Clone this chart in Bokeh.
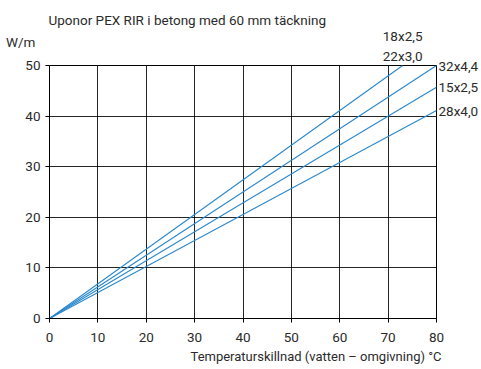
from bokeh.plotting import figure
from bokeh.models import Range1d, FixedTicker, LinearAxis, Title
from bokeh.embed import file_html
from bokeh.resources import INLINE

# Data
series_names = ["18x2,5 / 22x3,0", "32x4,4", "15x2,5", "28x4,0"]
dt_start = [0, 0, 0, 0]
q_start = [0, 0, 0, 0]
dt_end = [73, 80, 80, 80]
q_end = [50, 50, 45.7, 41.1]
x_ticks = [0, 10, 20, 30, 40, 50, 60, 70, 80]
y_ticks = [0, 10, 20, 30, 40, 50]
title_text = "Uponor PEX RIR i betong med 60 mm täckning"
y_title = "W/m"
x_title = "Temperaturskillnad (vatten – omgivning) °C"

FONT = "Roboto"
TXT = "#2b2b2b"
LINE = "#2a88cc"
FS = "13.5px"
FS_NUM = "13.5px"

p = figure(width=481, height=369, output_backend="svg", toolbar_location=None,
           x_range=Range1d(0, 80), y_range=Range1d(0, 50), title=None,
           min_border_left=49, min_border_right=45, min_border_top=65, min_border_bottom=51)
p.outline_line_color = "black"
p.outline_line_width = 1

for ax, ticks in ((p.xaxis, x_ticks), (p.yaxis, y_ticks)):
    ax.ticker = FixedTicker(ticks=ticks)
    ax.minor_tick_line_color = None
    ax.major_tick_in = 0
    ax.major_tick_out = 4
    ax.major_tick_line_color = "black"
    ax.axis_line_color = "black"
    ax.major_label_text_font = FONT
    ax.major_label_text_font_size = FS_NUM
    ax.major_label_text_color = TXT
    ax.axis_label_text_font = FONT
    ax.axis_label_text_font_size = FS
    ax.axis_label_text_font_style = "normal"
    ax.axis_label_text_color = TXT
p.xaxis.major_label_standoff = 10
p.yaxis.major_label_standoff = 5

# unit label at the top of the y axis (blank lines lift it above the frame)
p.yaxis.axis_label = y_title + "\n\u00a0\n\u00a0"
p.yaxis.axis_label_orientation = "horizontal"
p.yaxis.axis_label_align = "end"
p.yaxis.axis_label_standoff = -13
p.yaxis.axis_label_text_line_height = 1.45

p.xgrid.ticker = FixedTicker(ticks=x_ticks)
p.ygrid.ticker = FixedTicker(ticks=y_ticks)
p.grid.grid_line_color = "black"
p.grid.grid_line_width = 1
p.grid.grid_line_alpha = 0.85

for i in range(len(series_names)):
    p.line([dt_start[i], dt_end[i]], [q_start[i], q_end[i]], line_color=LINE, line_width=1.1)

def text_axis(ticks, labels, loc, standoff):
    ax = LinearAxis(ticker=FixedTicker(ticks=ticks),
                    major_label_overrides={t: s for t, s in zip(ticks, labels)})
    ax.axis_line_color = None
    ax.major_tick_line_color = None
    ax.minor_tick_line_color = None
    ax.major_tick_in = 0
    ax.major_tick_out = 0
    ax.major_label_standoff = standoff
    ax.major_label_text_font = FONT
    ax.major_label_text_font_size = FS
    ax.major_label_text_color = TXT
    p.add_layout(ax, loc)
    return ax

# Series labels
top_names = series_names[0].split(" / ")
text_axis([dt_end[0]], [top_names[1]], "above", 2)
text_axis([dt_end[0]], [top_names[0]], "above", 1)
text_axis(q_end[1:], series_names[1:], "right", 2)

# Chart title
p.add_layout(Title(text=title_text, align="left", offset=-1, standoff=-7,
                   text_font=FONT, text_font_size=FS, text_font_style="normal",
                   text_color=TXT), "above")

# x axis title, right aligned below the tick labels
p.add_layout(Title(text=x_title, align="right", offset=-5, standoff=4,
                   text_font=FONT, text_font_size="13px", text_font_style="normal",
                   text_color=TXT), "below")

open("out.html", "w").write(file_html(p, INLINE))
